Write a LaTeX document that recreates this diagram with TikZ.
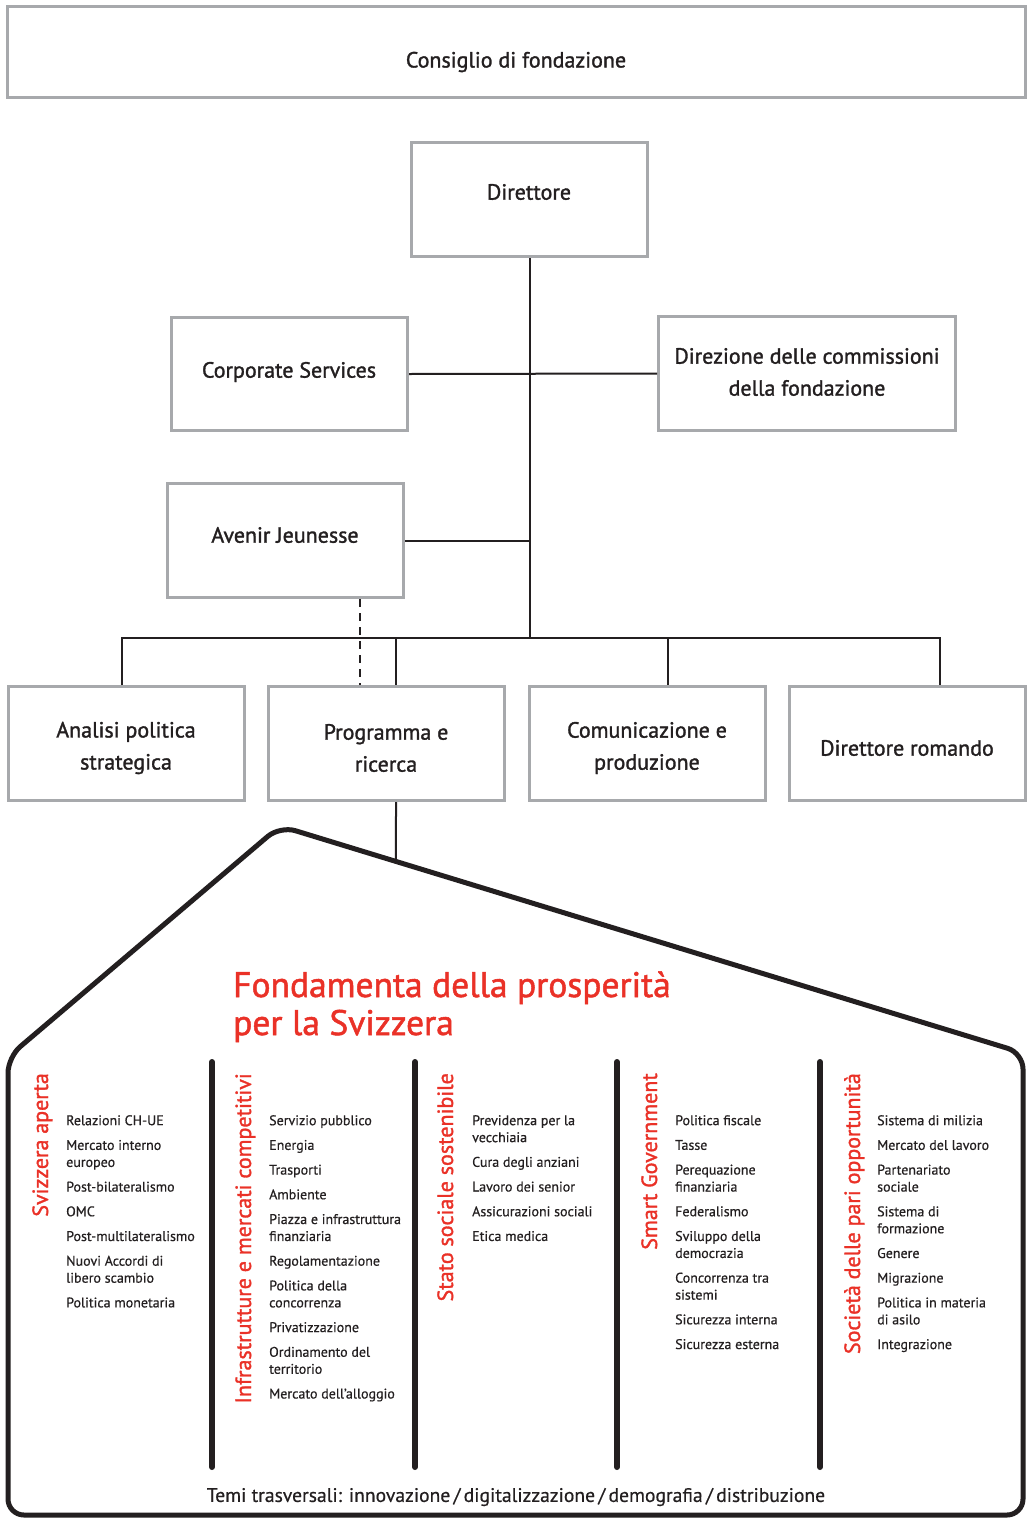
\documentclass[tikz,border=0pt]{standalone}
\usepackage{fontspec}
\setmainfont{PT Sans}
\newfontfamily\medfont{PT Sans}[FakeBold=1.4]
\newfontfamily\itemfont{PT Sans}[FakeBold=0.5]
\usetikzlibrary{calc}
\definecolor{boxgray}{HTML}{A7A9AC}
\definecolor{ink}{HTML}{231F20}
\definecolor{swred}{HTML}{EA3127}
\begin{document}
\begin{tikzpicture}[x=1pt,y=-1pt,
  box/.style={draw=boxgray, line width=3pt, fill=white, inner sep=0pt},
  lbl/.style={text=ink, font=\medfont\fontsize{22}{32}\selectfont, align=center, inner sep=0pt},
  conn/.style={draw=ink, line width=2pt},
  theme/.style={text=swred, font=\medfont\fontsize{22}{26}\selectfont, rotate=90, anchor=base east, inner sep=0pt},
  items/.style={text=ink, font=\itemfont\fontsize{14}{17}\selectfont, align=left, anchor=north west, inner sep=0pt},
  pillar/.style={draw=ink, line width=6pt, line cap=round},
  roof/.style={draw=ink, line width=5pt, rounded corners=16pt},
  title/.style={text=swred, font=\medfont\fontsize{35.5}{38}\selectfont, anchor=base west, inner sep=0pt}]

\useasboundingbox (0,0) rectangle (1029,1518);
\fill[white] (0,0) rectangle (1029,1518);

% boxes
\node[box, minimum width=1018pt, minimum height=91pt] (cons) at (516.5,52) {};
\node[box, minimum width=236pt, minimum height=114pt] (dir) at (529.5,199.5) {};
\node[box, minimum width=236pt, minimum height=113pt] (corp) at (289.5,374) {};
\node[box, minimum width=297pt, minimum height=114pt] (dirc) at (807,373.5) {};
\node[box, minimum width=236pt, minimum height=114pt] (av) at (285.5,540.5) {};
\node[box, minimum width=236pt, minimum height=114pt] (an) at (126.5,743.5) {};
\node[box, minimum width=236pt, minimum height=114pt] (prog) at (386.5,743.5) {};
\node[box, minimum width=236pt, minimum height=114pt] (com) at (647.5,743.5) {};
\node[box, minimum width=236pt, minimum height=114pt] (rom) at (907.5,743.5) {};

% box labels
\node[lbl] (consT) at (516,62) {Consiglio di fondazione};
\node[lbl] (dirT) at (529,192) {Direttore};
\node[lbl] (corpT) at (289,372) {Corporate Services};
\node[lbl] (dircT) at (807,372) {Direzione delle commissioni\\della fondazione};
\node[lbl] (avT) at (285,535) {Avenir Jeunesse};
\node[lbl] (anT) at (126,748) {Analisi politica\\strategica};
\node[lbl] (progT) at (386,748) {Programma e\\ricerca};
\node[lbl] (comT) at (647,748) {Comunicazione e\\produzione};
\node[lbl] (romT) at (907,748) {Direttore romando};

% connectors
\coordinate (busL) at (122,638);
\coordinate (busP) at (396,638);
\coordinate (busC) at (668,638);
\coordinate (busR) at (940,638);
\coordinate (dashx) at (360,0);
\draw[conn] (dir.south) -- (dir.south |- busL);
\draw[conn] (corp.east) -- (dirc.west);
\draw[conn] (av.east) -- (av.east -| dir.south);
\draw[conn] (busL |- an.north) -- (busL) -- (busR) -- (busR |- rom.north);
\draw[conn] (busP) -- (busP |- prog.north);
\draw[conn] (busC) -- (busC |- com.north);
\draw[conn, line width=2.5pt, dash pattern=on 8pt off 6pt] (dashx |- av.south) -- (dashx |- prog.north);

% house
\coordinate (peak) at (280,826);
\coordinate (eave) at (1023,1053);
\coordinate (roofhit) at ($(peak)!0.1561!(eave)$);
\draw[conn] ([xshift=9.5pt]prog.south) -- (roofhit);
\draw[roof] (8,1300) -- (8,1057) -- (peak) -- (eave) -- (1023,1515) -- (8,1515) -- cycle;

\node[title] (title1) at (233,997) {Fondamenta della prosperità};
\node[title] (title2) at (233,1035) {per la Svizzera};

\foreach \x in {212,415,617,820} \draw[pillar] (\x,1062) -- (\x,1467);

% themes
\node[theme] (th1) at (48,1073) {Svizzera aperta};
\node[theme] (th2) at (251,1073) {Infrastrutture e mercati competitivi};
\node[theme] (th3) at (453,1073) {Stato sociale sostenibile};
\node[theme] (th4) at (657,1073) {Smart Government};
\node[theme] (th5) at (860,1073) {Società delle pari opportunità};

% item lists
\node[items] (it1) at (66,1115) {Relazioni CH-UE\\[7.7pt]Mercato interno\\europeo\\[7.7pt]Post-bilateralismo\\[7.7pt]OMC\\[7.7pt]Post-multilateralismo\\[7.7pt]Nuovi Accordi di\\libero scambio\\[7.7pt]Politica monetaria};
\node[items] (it2) at (269,1115) {Servizio pubblico\\[7.7pt]Energia\\[7.7pt]Trasporti\\[7.7pt]Ambiente\\[7.7pt]Piazza e infrastruttura\\finanziaria\\[7.7pt]Regolamentazione\\[7.7pt]Politica della\\concorrenza\\[7.7pt]Privatizzazione\\[7.7pt]Ordinamento del\\territorio\\[7.7pt]Mercato dell’alloggio};
\node[items] (it3) at (472,1115) {Previdenza per la\\vecchiaia\\[7.7pt]Cura degli anziani\\[7.7pt]Lavoro dei senior\\[7.7pt]Assicurazioni sociali\\[7.7pt]Etica medica};
\node[items] (it4) at (675,1115) {Politica fiscale\\[7.7pt]Tasse\\[7.7pt]Perequazione\\finanziaria\\[7.7pt]Federalismo\\[7.7pt]Sviluppo della\\democrazia\\[7.7pt]Concorrenza tra\\sistemi\\[7.7pt]Sicurezza interna\\[7.7pt]Sicurezza esterna};
\node[items] (it5) at (877,1115) {Sistema di milizia\\[7.7pt]Mercato del lavoro\\[7.7pt]Partenariato\\sociale\\[7.7pt]Sistema di\\formazione\\[7.7pt]Genere\\[7.7pt]Migrazione\\[7.7pt]Politica in materia\\di asilo\\[7.7pt]Integrazione};

\node[text=ink, font=\itemfont\fontsize{19.6}{22}\selectfont, inner sep=0pt] (temi) at (516,1497) {Temi trasversali: innovazione\,/\,digitalizzazione\,/\,demografia\,/\,distribuzione};
\end{tikzpicture}
\end{document}
